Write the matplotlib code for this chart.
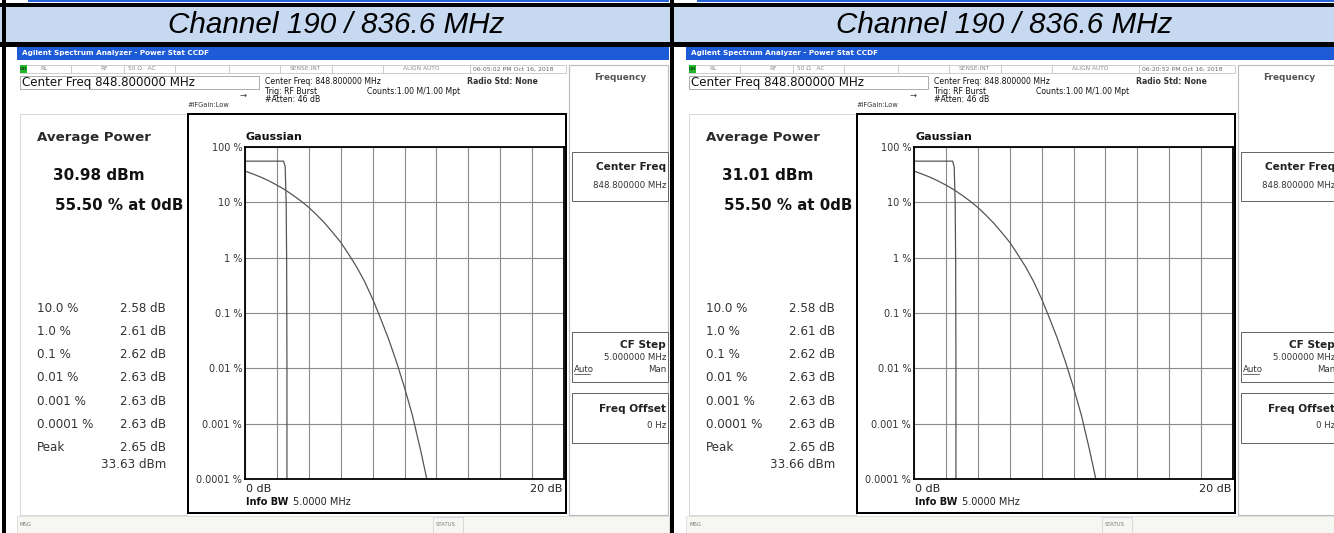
import matplotlib
matplotlib.use("Agg")
import matplotlib.pyplot as plt
from matplotlib.patches import Rectangle

W, H = 1334, 533

# =========================
# Datos
# =========================
header_text = "Channel 190 / 836.6 MHz"
avg_power = ["30.98 dBm", "31.01 dBm"]
peak_dbm = ["33.63 dBm", "33.66 dBm"]
timestamps = ["06:05:02 PM Oct 16, 2018", "06:20:52 PM Oct 16, 2018"]
pct_at_0db = "55.50 % at 0dB"

ccdf_levels = ["10.0 %", "1.0 %", "0.1 %", "0.01 %", "0.001 %", "0.0001 %", "Peak"]
ccdf_db = [2.58, 2.61, 2.62, 2.63, 2.63, 2.63, 2.65]

# traza medida (dB sobre potencia media, probabilidad en %)
trace_db = [0, 2.42, 2.52, 2.58, 2.61, 2.62, 2.63, 2.63, 2.63]
trace_pct = [55.5, 55.5, 44, 10, 1, 0.1, 0.01, 0.001, 0.0001]

gauss_db = [0, 0.5, 1, 1.5, 2, 2.5, 3, 3.5, 4, 4.5, 5, 5.5, 6, 6.5, 7, 7.5,
            8, 8.5, 9, 9.5, 10, 10.5, 11, 11.4]
gauss_pct = [36.8, 32.5, 28.5, 24.4, 20.5, 16.9, 13.5, 10.6, 8.1, 5.9, 4.2,
             2.85, 1.9, 1.15, 0.68, 0.37, 0.18, 0.08, 0.034, 0.013,
             0.0045, 0.0014, 0.00034, 0.0001]

y_ticks = [100, 10, 1, 0.1, 0.01, 0.001, 0.0001]
y_tick_labels = ["100 %", "10 %", "1 %", "0.1 %", "0.01 %", "0.001 %", "0.0001 %"]
x_ticks = [0, 2, 4, 6, 8, 10, 12, 14, 16, 18, 20]

status_cells = [71, 124, 175, 229, 280, 332, 383, 470]

FONT = "DejaVu Sans"
PX = 0.72  # 1 px en puntos

fig = plt.figure(figsize=(W / 100, H / 100), dpi=100)
bg = fig.add_axes([0, 0, 1, 1])
bg.set_xlim(0, W)
bg.set_ylim(H, 0)
bg.axis("off")


def rect(x, y, w, h, fc="none", ec="none", lw=1.0, z=1):
    bg.add_patch(Rectangle((x, y), w, h, facecolor=fc, edgecolor=ec,
                           linewidth=lw * PX, zorder=z, clip_on=True))


def txt(x, y, s, size, weight="normal", ha="left", color="#000000",
        family=FONT, style="normal", z=5):
    bg.text(x, y, s, fontsize=size, fontweight=weight, ha=ha, va="center",
            color=color, family=family, style=style, zorder=z, clip_on=True)


def draw_screen(dx, i):
    # barra de titulo
    rect(dx + 17, 47, 652, 13, fc="#1e5bd6")
    txt(dx + 22, 53.5, "Agilent Spectrum Analyzer - Power Stat CCDF", 5.2,
        weight="bold", color="white")
    rect(dx + 17, 60, 652, 473, fc="white")

    # fila de estado
    rect(dx + 20, 65, 546, 8, fc="white", ec="#c4c4c4", lw=0.8)
    for cx in status_cells:
        bg.plot([dx + cx, dx + cx], [65, 73], color="#c4c4c4", lw=0.6, zorder=2)
    rect(dx + 20, 65, 7, 8, fc="#22b82a", z=3)
    txt(dx + 23.5, 69, "LXI", 3, weight="bold", ha="center", color="#113311")
    txt(dx + 40, 69, "RL", 4.2, color="#8a8a8a")
    txt(dx + 100, 69, "RF", 4.2, color="#8a8a8a")
    txt(dx + 128, 69, "50 Ω   AC", 4.2, color="#8a8a8a")
    txt(dx + 290, 69, "SENSE:INT", 4.2, color="#8a8a8a")
    txt(dx + 403, 69, "ALIGN AUTO", 4.2, color="#8a8a8a")
    txt(dx + 473, 69, timestamps[i], 4.4, color="#666666")

    # caja de frecuencia central
    rect(dx + 20, 76, 239, 13, fc="white", ec="#9a9a9a", lw=0.8)
    txt(dx + 22, 82.5, "Center Freq 848.800000 MHz", 8.6, color="#111111")

    txt(dx + 265, 81, "Center Freq: 848.800000 MHz", 5.6, color="#111111")
    txt(dx + 265, 91, "Trig: RF Burst", 5.6, color="#111111")
    txt(dx + 265, 100, "#Atten: 46 dB", 5.6, color="#111111")
    txt(dx + 367, 91, "Counts:1.00 M/1.00 Mpt", 5.6, color="#111111")
    txt(dx + 467, 81, "Radio Std: None", 5.6, weight="bold", color="#333333")
    txt(dx + 187, 105, "#IFGain:Low", 4.8, color="#333333")
    txt(dx + 240, 95, "→", 6, color="#333333")

    # panel izquierdo con resultados
    rect(dx + 20, 114, 167, 401, fc="white", ec="#cfcfcf", lw=0.8)
    txt(dx + 37, 137, "Average Power", 9.6, weight="bold", color="#2a2a2a")
    txt(dx + 53, 175, avg_power[i], 11, weight="bold", color="#111111")
    txt(dx + 55, 205, pct_at_0db, 10.8, weight="bold", color="#111111")
    for k, (lab, val) in enumerate(zip(ccdf_levels, ccdf_db)):
        yy = 308 + k * 23.3
        txt(dx + 37, yy, lab, 8.6, color="#333333")
        txt(dx + 166, yy, f"{val:.2f} dB", 8.6, ha="right", color="#333333")
    txt(dx + 166, 465, peak_dbm[i], 8.6, ha="right", color="#333333")

    # marco del grafico
    rect(dx + 188, 114, 378, 399, fc="white", ec="black", lw=2.0, z=2)
    txt(dx + 246, 137, "Gaussian", 8, weight="bold", color="#111111")
    txt(dx + 246, 489, "0 dB", 8, color="#222222")
    txt(dx + 562, 489, "20 dB", 8, ha="right", color="#222222")
    txt(dx + 246, 502, "Info BW", 7, weight="bold", color="#111111")
    txt(dx + 293, 502, "5.0000 MHz", 7, color="#222222")

    # panel de softkeys
    rect(dx + 569, 65, 99, 450, fc="white", ec="#bdbdbd", lw=1.2)
    txt(dx + 620, 77, "Frequency", 6.4, weight="bold", ha="center", color="#555555")
    rect(dx + 572, 152, 96, 49, fc="white", ec="#666666", lw=1.0)
    txt(dx + 666, 167, "Center Freq", 7.6, weight="bold", ha="right", color="#222222")
    txt(dx + 666, 185, "848.800000 MHz", 6.2, ha="right", color="#333333")
    rect(dx + 572, 332, 96, 50, fc="white", ec="#666666", lw=1.0)
    txt(dx + 666, 345, "CF Step", 7.6, weight="bold", ha="right", color="#222222")
    txt(dx + 666, 357, "5.000000 MHz", 6.2, ha="right", color="#333333")
    txt(dx + 574, 370, "Auto", 6.2, color="#333333")
    bg.plot([dx + 574, dx + 590], [374, 374], color="#333333", lw=0.5, zorder=5)
    txt(dx + 666, 370, "Man", 6.2, ha="right", color="#333333")
    rect(dx + 572, 393, 96, 50, fc="white", ec="#666666", lw=1.0)
    txt(dx + 666, 409, "Freq Offset", 7.6, weight="bold", ha="right", color="#222222")
    txt(dx + 666, 426, "0 Hz", 6.2, ha="right", color="#333333")

    # barra de mensajes
    rect(dx + 17, 516, 652, 17, fc="#f6f6f2", ec="#d0d0d0", lw=0.6)
    txt(dx + 20, 524, "MSG", 3.8, color="#777777")
    rect(dx + 433, 517, 30, 16, fc="none", ec="#c8c8c8", lw=0.6)
    txt(dx + 436, 524, "STATUS", 3.8, color="#777777")

    # grafico CCDF
    x0, x1, y0, y1 = dx + 245, dx + 564, 147, 479
    ax = fig.add_axes([x0 / W, 1 - y1 / H, (x1 - x0) / W, (y1 - y0) / H])
    ax.set_yscale("log")
    ax.set_xlim(0, 20)
    ax.set_ylim(0.0001, 100)
    ax.set_xticks(x_ticks)
    ax.set_xticklabels([])
    ax.set_yticks(y_ticks)
    ax.set_yticklabels(y_tick_labels, fontsize=7, family=FONT, color="#333333")
    ax.minorticks_off()
    ax.tick_params(length=0, pad=2)
    ax.grid(True, color="#8a8a8a", lw=0.8)
    ax.set_axisbelow(True)
    for sp in ax.spines.values():
        sp.set_linewidth(1.3)
        sp.set_color("black")
    ax.plot(gauss_db, gauss_pct, color="#555555", lw=0.9)
    ax.plot(trace_db, trace_pct, color="#555555", lw=0.9)


# =========================
# Cabecera de la tabla
# =========================
rect(0, 0, W, 3, fc="white")
rect(28, 0, 641, 1.5, fc="#2a66d8")
rect(697, 0, 637, 1.5, fc="#2a66d8")
rect(0, 3, W, 4, fc="black", z=6)
rect(0, 7, W, 35, fc="#c6d9f1")
rect(0, 42, W, 5, fc="black", z=6)
txt(336, 25, header_text, 21.3, ha="center", family="Liberation Sans", style="italic")
txt(1004, 25, header_text, 21.3, ha="center", family="Liberation Sans", style="italic")

draw_screen(0, 0)
draw_screen(669, 1)

# bordes verticales
rect(2, 0, 4, H, fc="black", z=6)
rect(670, 0, 4, H, fc="black", z=6)
rect(674, 47, 12, H - 47, fc="white", z=6)

fig.savefig("out.png", dpi=100)
